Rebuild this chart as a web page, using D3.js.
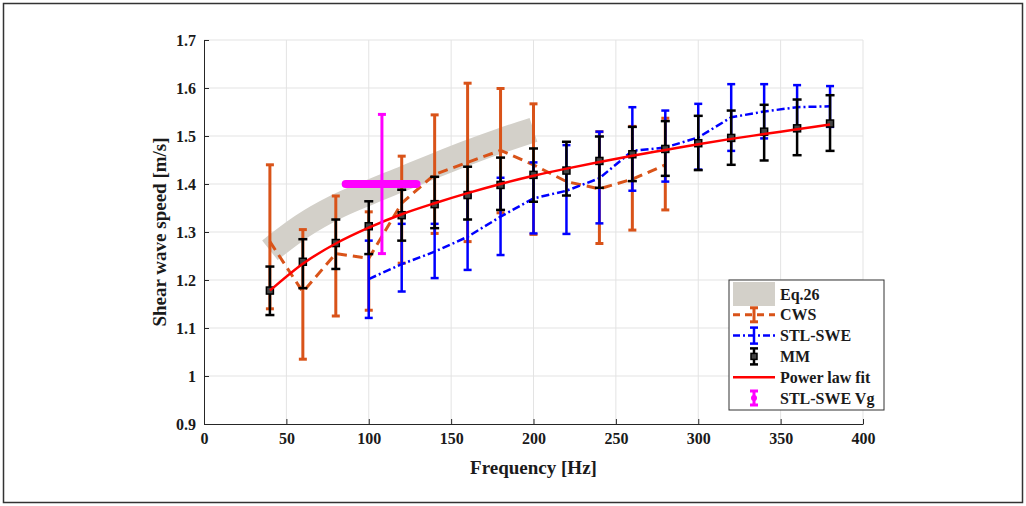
<!DOCTYPE html>
<html>
<head>
<meta charset="utf-8">
<script src="https://cdn.jsdelivr.net/npm/d3@7"></script>
<style>
  body { margin: 0; background: #fff; }
  text { font-family: "Liberation Serif", "Times New Roman", serif; font-weight: bold; fill: #1a1a1a; }
  .grid line { stroke: #e3e3e3; stroke-width: 1px; }
  .axis path, .axis line { stroke: #262626; }
</style>
</head>
<body>
<div id="chart"></div>
<script>
// ---- data ----
var xTicks = [0, 50, 100, 150, 200, 250, 300, 350, 400];
var yTicks = [0.9, 1, 1.1, 1.2, 1.3, 1.4, 1.5, 1.6, 1.7];

// Eq.26 band (centre line of the grey band)
var eqFreq = [40, 60, 80, 100, 120, 140, 160, 180, 200];
var eqVal  = [1.262, 1.313, 1.352, 1.382, 1.41, 1.438, 1.465, 1.49, 1.513];

// CWS (orange, dashed)
var cwsFreq = [40, 60, 80, 100, 120, 140, 160, 180, 200, 220, 240, 260, 280];
var cwsMean = [1.28, 1.175, 1.255, 1.245, 1.36, 1.42, 1.445, 1.47, 1.44, 1.405, 1.39, 1.41, 1.44];
var cwsLo   = [1.14, 1.035, 1.125, 1.137, 1.235, 1.297, 1.28, 1.34, 1.295, null, 1.276, 1.304, 1.346];
var cwsHi   = [1.44, 1.305, 1.375, 1.342, 1.458, 1.544, 1.61, 1.599, 1.567, null, 1.509, 1.52, 1.537];

// STL-SWE (blue, dash-dot)
var stlFreq = [100, 120, 140, 160, 180, 200, 220, 240, 260, 280, 300, 320, 340, 360, 380];
var stlMean = [1.202, 1.233, 1.259, 1.29, 1.332, 1.37, 1.386, 1.412, 1.469, 1.476, 1.497, 1.539, 1.551, 1.56, 1.562];
var stlLo   = [1.121, 1.176, 1.204, 1.221, 1.252, 1.297, 1.296, 1.318, 1.386, 1.405, 1.43, 1.469, 1.495, 1.519, 1.519];
var stlHi   = [1.282, 1.317, 1.317, 1.374, 1.413, 1.445, 1.481, 1.509, 1.56, 1.553, 1.567, 1.608, 1.608, 1.606, 1.604];

// MM (black, square markers)
var mmFreq = [40, 60, 80, 100, 120, 140, 160, 180, 200, 220, 240, 260, 280, 300, 320, 340, 360, 380];
var mmMean = [1.178, 1.238, 1.277, 1.312, 1.335, 1.358, 1.377, 1.398, 1.419, 1.428, 1.448, 1.462, 1.473, 1.485, 1.496, 1.509, 1.516, 1.526];
var mmLo   = [1.127, 1.183, 1.223, 1.254, 1.282, 1.308, 1.326, 1.346, 1.363, 1.376, 1.392, 1.406, 1.417, 1.429, 1.44, 1.449, 1.46, 1.469];
var mmHi   = [1.228, 1.285, 1.326, 1.364, 1.388, 1.415, 1.436, 1.455, 1.474, 1.488, 1.499, 1.519, 1.531, 1.542, 1.553, 1.565, 1.576, 1.585];

// Power law fit (red)
var fitFreq = [40, 60, 80, 100, 120, 140, 160, 180, 200, 220, 240, 260, 280, 300, 320, 340, 360, 380];
var fitVal  = [1.178, 1.234, 1.276, 1.309, 1.337, 1.36, 1.381, 1.4, 1.417, 1.432, 1.446, 1.459, 1.471, 1.483, 1.494, 1.504, 1.514, 1.524];

// STL-SWE Vg (magenta, single point with x and y error)
var vgFreq = [108], vgVal = [1.40], vgLo = [1.255], vgHi = [1.545], vgFLo = [86], vgFHi = [129];

var legendNames = ["Eq.26", "CWS", "STL-SWE", "MM", "Power law fit", "STL-SWE Vg"];

var ORANGE = "#d95319", BLUE = "#0000ff", RED = "#ff0000", MAG = "#ff00ff", BAND = "#d3d0c9";

// ---- layout ----
var W = 1026, H = 506;
var margin = { top: 40, right: 163, bottom: 82, left: 204 };

var svg = d3.select("#chart").append("svg")
    .attr("width", W).attr("height", H);

// outer frame
svg.append("rect")
    .attr("x", 3.5).attr("y", 3.5).attr("width", W - 7).attr("height", H - 7)
    .attr("fill", "none").attr("stroke", "#333").attr("stroke-width", 1.5);

var x = d3.scaleLinear().domain([0, 400]).range([margin.left, W - margin.right]);
var y = d3.scaleLinear().domain([0.9, 1.7]).range([H - margin.bottom, margin.top]);

// grid
var grid = svg.append("g").attr("class", "grid");
grid.selectAll(".gx").data(xTicks.slice(1)).enter().append("line")
    .attr("x1", function(d) { return x(d); }).attr("x2", function(d) { return x(d); })
    .attr("y1", y(0.9)).attr("y2", y(1.7));
grid.selectAll(".gy").data(yTicks.slice(1)).enter().append("line")
    .attr("y1", function(d) { return y(d); }).attr("y2", function(d) { return y(d); })
    .attr("x1", x(0)).attr("x2", x(400));

// axes (ticks point inside)
var xAxis = svg.append("g").attr("class", "axis")
    .attr("transform", "translate(0," + y(0.9) + ")")
    .call(d3.axisBottom(x).tickValues(xTicks).tickSizeInner(-5).tickSizeOuter(0).tickPadding(9));
var yAxis = svg.append("g").attr("class", "axis")
    .attr("transform", "translate(" + x(0) + ",0)")
    .call(d3.axisLeft(y).tickValues(yTicks).tickSizeInner(-5).tickSizeOuter(0).tickPadding(8)
          .tickFormat(function(d) { return String(d); }));
svg.selectAll(".axis text").style("font-size", "16px").attr("fill", "#1a1a1a")
    .style("font-family", "'Liberation Serif', serif").style("font-weight", "bold");

// axis titles
svg.append("text").attr("x", (x(0) + x(400)) / 2).attr("y", 474)
    .attr("text-anchor", "middle").style("font-size", "19px").text("Frequency [Hz]");
svg.append("text").attr("transform", "translate(166," + y(1.3) + ") rotate(-90)")
    .attr("text-anchor", "middle").style("font-size", "19px").text("Shear wave speed [m/s]");

// error bar helper
function errBars(g, fr, lo, hi, color, width, cap) {
  fr.forEach(function(f, i) {
    if (lo[i] == null) return;
    var cx = x(f);
    g.append("line").attr("x1", cx).attr("x2", cx).attr("y1", y(lo[i])).attr("y2", y(hi[i]))
        .attr("stroke", color).attr("stroke-width", width);
    [lo[i], hi[i]].forEach(function(v) {
      g.append("line").attr("x1", cx - cap / 2).attr("x2", cx + cap / 2).attr("y1", y(v)).attr("y2", y(v))
          .attr("stroke", color).attr("stroke-width", width);
    });
  });
}

var line = d3.line().x(function(d) { return x(d[0]); }).y(function(d) { return y(d[1]); });

// Eq.26 band
svg.append("path")
    .datum(d3.zip(eqFreq, eqVal))
    .attr("d", line.curve(d3.curveMonotoneX))
    .attr("fill", "none").attr("stroke", BAND).attr("stroke-width", 25).attr("stroke-linecap", "butt");
line.curve(d3.curveLinear);

// CWS
var gC = svg.append("g");
gC.append("path").datum(d3.zip(cwsFreq, cwsMean)).attr("d", line)
    .attr("fill", "none").attr("stroke", ORANGE).attr("stroke-width", 3).attr("stroke-dasharray", "10,6");
errBars(gC, cwsFreq, cwsLo, cwsHi, ORANGE, 3, 8);

// STL-SWE
var gS = svg.append("g");
gS.append("path").datum(d3.zip(stlFreq, stlMean)).attr("d", line)
    .attr("fill", "none").attr("stroke", BLUE).attr("stroke-width", 2.5).attr("stroke-dasharray", "8,3,2,3");
errBars(gS, stlFreq, stlLo, stlHi, BLUE, 2.5, 8);

// MM
var gM = svg.append("g");
errBars(gM, mmFreq, mmLo, mmHi, "#000", 2.5, 9);
gM.selectAll("rect").data(d3.zip(mmFreq, mmMean)).enter().append("rect")
    .attr("x", function(d) { return x(d[0]) - 3.5; }).attr("y", function(d) { return y(d[1]) - 3.5; })
    .attr("width", 7).attr("height", 7)
    .attr("fill", "#444").attr("stroke", "#000").attr("stroke-width", 1.5);

// Power law fit
svg.append("path").datum(d3.zip(fitFreq, fitVal))
    .attr("d", d3.line().curve(d3.curveMonotoneX).x(function(d) { return x(d[0]); }).y(function(d) { return y(d[1]); }))
    .attr("fill", "none").attr("stroke", RED).attr("stroke-width", 2.5);

// STL-SWE Vg
var gV = svg.append("g");
errBars(gV, vgFreq, vgLo, vgHi, MAG, 3, 8);
gV.append("line").attr("x1", x(vgFLo[0])).attr("x2", x(vgFHi[0]))
    .attr("y1", y(vgVal[0])).attr("y2", y(vgVal[0]))
    .attr("stroke", MAG).attr("stroke-width", 8).attr("stroke-linecap", "round");

// legend
var lg = svg.append("g").attr("transform", "translate(729,280)");
lg.append("rect").attr("width", 155).attr("height", 130)
    .attr("fill", "#fff").attr("stroke", "#333").attr("stroke-width", 1);
var rowY = function(i) { return 14 + i * 20.8; };
var sx0 = 4, sx1 = 46, sxm = 25;
lg.append("rect").attr("x", sx0).attr("y", 2).attr("width", sx1 - sx0).attr("height", 24).attr("fill", BAND);
function legBar(cy, h, color, w) {
  lg.append("line").attr("x1", sxm).attr("x2", sxm).attr("y1", cy - h).attr("y2", cy + h).attr("stroke", color).attr("stroke-width", w);
  [cy - h, cy + h].forEach(function(v) {
    lg.append("line").attr("x1", sxm - 4).attr("x2", sxm + 4).attr("y1", v).attr("y2", v).attr("stroke", color).attr("stroke-width", w);
  });
}
lg.append("line").attr("x1", sx0).attr("x2", sx1).attr("y1", rowY(1)).attr("y2", rowY(1))
    .attr("stroke", ORANGE).attr("stroke-width", 3).attr("stroke-dasharray", "7,5");
legBar(rowY(1), 7, ORANGE, 3);
lg.append("line").attr("x1", sx0).attr("x2", sx1).attr("y1", rowY(2)).attr("y2", rowY(2))
    .attr("stroke", BLUE).attr("stroke-width", 2.5).attr("stroke-dasharray", "7,3,2,3");
legBar(rowY(2), 8, BLUE, 2.5);
legBar(rowY(3), 8, "#000", 2.5);
lg.append("rect").attr("x", sxm - 3).attr("y", rowY(3) - 3).attr("width", 6).attr("height", 6)
    .attr("fill", "#444").attr("stroke", "#000").attr("stroke-width", 1.5);
lg.append("line").attr("x1", sx0).attr("x2", sx1).attr("y1", rowY(4)).attr("y2", rowY(4))
    .attr("stroke", RED).attr("stroke-width", 2.5);
legBar(rowY(5), 7, MAG, 3);
lg.append("circle").attr("cx", sxm).attr("cy", rowY(5)).attr("r", 3).attr("fill", MAG);

lg.selectAll(".lt").data(legendNames).enter().append("text")
    .attr("x", 51).attr("y", function(d, i) { return rowY(i) + 5.5; })
    .style("font-size", "16px").text(function(d) { return d; });
</script>
</body>
</html>
